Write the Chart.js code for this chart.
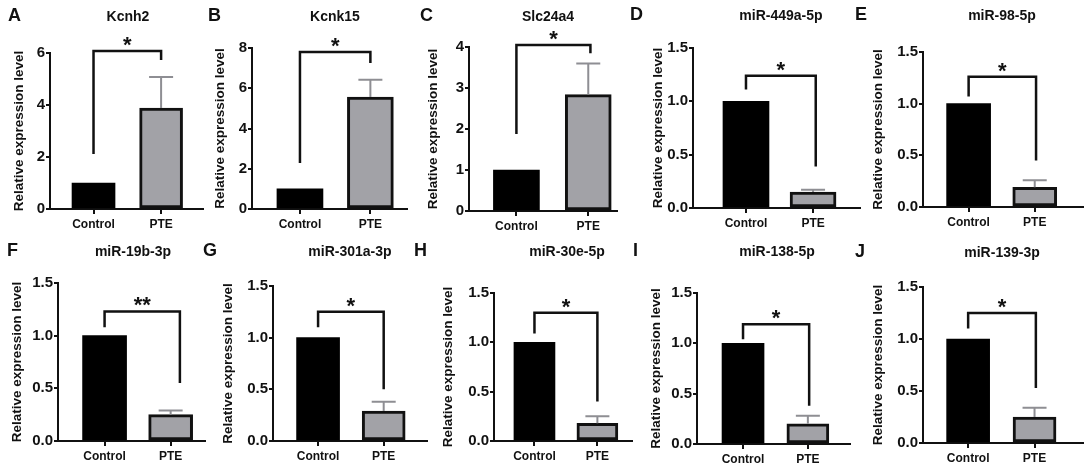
<!DOCTYPE html>
<html>
<head>
<meta charset="utf-8">
<title>Relative expression panels</title>
<script src="https://cdn.jsdelivr.net/npm/chart.js@4.4.0/dist/chart.umd.min.js"></script>
<style>
    body { margin:0; background:#fff; font-family:"Liberation Sans", Arial, sans-serif; }
    #fig { position:relative; width:1084px; height:468px; overflow:hidden; background:#fff; }
    #fig canvas { position:absolute; }
    .lbl { position:absolute; font-weight:bold; color:#111; line-height:1; white-space:nowrap; }
    .letter { font-size:18px; transform:translateY(-50%); }
    .ttl { font-size:14px; transform:translate(-50%,-50%); }
</style>
</head>
<body>
<div id="fig"></div>
<script>
// values (PTE bar = mean, error bar = mean + SEM)
var panelLetters = ['A','B','C','D','E','F','G','H','I','J'];
var panelTitles = ['Kcnh2','Kcnk15','Slc24a4','miR-449a-5p','miR-98-5p',
                   'miR-19b-3p','miR-301a-3p','miR-30e-5p','miR-138-5p','miR-139-3p'];
var groups = ['Control','PTE'];
var controlMean = [1, 1, 1, 1, 1, 1, 1, 1, 1, 1];
var pteMean = [3.88, 5.56, 2.84, 0.15, 0.19, 0.25, 0.29, 0.18, 0.20, 0.25];
var pteErr  = [1.2, 0.86, 0.76, 0.02, 0.07, 0.04, 0.09, 0.07, 0.08, 0.09];
var yMax  = [6, 8, 4, 1.5, 1.5, 1.5, 1.5, 1.5, 1.5, 1.5];
var yStep = [2, 2, 1, 0.5, 0.5, 0.5, 0.5, 0.5, 0.5, 0.5];
var sigMarks = ['*','*','*','*','*','**','*','*','*','*'];
var bracketTop   = [6.08, 7.8, 4.05, 1.24, 1.26, 1.23, 1.25, 1.30, 1.19, 1.25];
var bracketLeft  = [2.12, 2.29, 1.88, 1.11, 1.07, 1.08, 1.10, 1.09, 1.04, 1.10];
var bracketRight = [5.73, 7.26, 3.85, 0.39, 0.45, 0.55, 0.50, 0.40, 0.38, 0.53];

// where each panel sits in the figure (pixels) - layout only
// L/R = x axis ends, top/bot = pixel of max tick / zero, tx = y title centre
var frames = [
    {L:50,  R:203,  top:53,  bot:209, tx:19,  xr:[0.356,2.62], bw:43, legs:[1,2],    lx:8,   ty:15, tcx:128},
    {L:252, R:407,  top:48,  bot:209, tx:220, xr:[0.319,2.52], bw:46, legs:[1,2],    lx:208, ty:15, tcx:335},
    {L:469, R:617,  top:47,  bot:211, tx:433, xr:[0.34,2.40],  bw:46, legs:[1,2.03], lx:420, ty:15, tcx:548},
    {L:693, R:860,  top:48,  bot:208, tx:658, xr:[0.21,2.70],  bw:46, legs:[1,2.04], lx:630, ty:14, tcx:781},
    {L:923, R:1083, top:52,  bot:207, tx:878, xr:[0.31,2.73],  bw:44, legs:[1,2.02], lx:855, ty:14, tcx:1002},
    {L:58,  R:205,  top:283, bot:441, tx:17,  xr:[0.295,2.52], bw:44, legs:[1,2.14], lx:7,   ty:250, tcx:133},
    {L:273, R:427,  top:286, bot:441, tx:228, xr:[0.313,2.66], bw:43, legs:[1,2],    lx:203, ty:250, tcx:350},
    {L:494, R:632,  top:293, bot:441, tx:448, xr:[0.357,2.55], bw:41, legs:[1,2],    lx:414, ty:250, tcx:567},
    {L:697, R:850,  top:293, bot:444, tx:656, xr:[0.29,2.65],  bw:42, legs:[1,2.02], lx:633, ty:250, tcx:777},
    {L:923, R:1083, top:287, bot:443, tx:878, xr:[0.32,2.73],  bw:43, legs:[1,2.02], lx:855, ty:251, tcx:1002}
];

var FONT = '"Liberation Sans", Arial, sans-serif';
Chart.defaults.font.family = FONT;
Chart.defaults.color = '#111';

var fig = document.getElementById('fig');

// error bar, bracket and stars, drawn through the chart scales
function makeSig(i) {
    return {
        id: 'sig' + i,
        afterDatasetsDraw: function(chart) {
            var f = frames[i];
            var x = chart.scales.x, y = chart.scales.y, ctx = chart.ctx;
            ctx.save();
            var px = x.getPixelForValue(2);
            var y0 = y.getPixelForValue(pteMean[i]);
            var y1 = y.getPixelForValue(pteMean[i] + pteErr[i]);
            ctx.strokeStyle = '#8e8e93';
            ctx.lineWidth = 2;
            ctx.beginPath();
            ctx.moveTo(px, y0); ctx.lineTo(px, y1);
            ctx.moveTo(px - 12, y1); ctx.lineTo(px + 12, y1);
            ctx.stroke();

            var xl = x.getPixelForValue(f.legs[0]);
            var xr = x.getPixelForValue(f.legs[1]);
            var yt = y.getPixelForValue(bracketTop[i]);
            ctx.strokeStyle = '#111';
            ctx.lineWidth = 2.5;
            ctx.lineJoin = 'miter';
            ctx.beginPath();
            ctx.moveTo(xl, y.getPixelForValue(bracketLeft[i]));
            ctx.lineTo(xl, yt);
            ctx.lineTo(xr, yt);
            ctx.lineTo(xr, y.getPixelForValue(bracketRight[i]));
            ctx.stroke();

            ctx.fillStyle = '#111';
            ctx.font = 'bold 22px ' + FONT;
            ctx.textAlign = 'center';
            ctx.textBaseline = 'alphabetic';
            ctx.fillText(sigMarks[i], (xl + xr) / 2, yt + 1);
            ctx.restore();
        }
    };
}

frames.forEach(function(f, i) {
    var row = i < 5 ? 0 : 234;
    var left = Math.round(f.tx - 8);
    var w = f.R + 2 - left, h = f.bot - row + 26;

    var cv = document.createElement('canvas');
    cv.width = w; cv.height = h;
    cv.style.left = left + 'px'; cv.style.top = row + 'px';
    cv.style.width = w + 'px'; cv.style.height = h + 'px';
    fig.appendChild(cv);

    var letter = document.createElement('div');
    letter.className = 'lbl letter';
    letter.style.left = f.lx + 'px'; letter.style.top = f.ty + 'px';
    letter.textContent = panelLetters[i];
    fig.appendChild(letter);

    var ttl = document.createElement('div');
    ttl.className = 'lbl ttl';
    ttl.style.left = f.tcx + 'px'; ttl.style.top = (f.ty + 1) + 'px';
    ttl.textContent = panelTitles[i];
    fig.appendChild(ttl);

    new Chart(cv, {
        type: 'bar',
        data: {
            datasets: [{
                data: [{x:1, y:controlMean[i]}, {x:2, y:pteMean[i]}],
                backgroundColor: ['#000000', '#a2a2a7'],
                borderColor: '#111',
                borderWidth: [0, 3],
                borderSkipped: false,
                barThickness: f.bw
            }]
        },
        options: {
            responsive: false,
            animation: false,
            layout: { padding: { top: f.top - row, left: 0, right: 2, bottom: 0 } },
            plugins: { legend: { display: false }, tooltip: { enabled: false } },
            scales: {
                x: {
                    type: 'linear', min: f.xr[0], max: f.xr[1], offset: false,
                    afterBuildTicks: function(s) {
                        s.ticks = groups.map(function(g, k) { return { value: k + 1 }; });
                    },
                    afterFit: function(s) { s.height = 26; },
                    ticks: {
                        callback: function(v) { return groups[v - 1]; },
                        font: { size: 12, weight: 'bold' }, color: '#111',
                        padding: 3, maxRotation: 0, autoSkip: false
                    },
                    grid: { display: true, offset: false, drawOnChartArea: false, drawTicks: true,
                            tickLength: 5, color: '#111', lineWidth: 2 },
                    border: { display: true, color: '#111', width: 2 }
                },
                y: {
                    min: 0, max: yMax[i],
                    afterFit: function(s) { s.width = f.L - left; },
                    ticks: {
                        stepSize: yStep[i],
                        callback: function(v) { return yStep[i] < 1 ? v.toFixed(1) : String(v); },
                        font: { size: 15, weight: 'bold' }, color: '#111', padding: 1
                    },
                    grid: { display: true, drawOnChartArea: false, drawTicks: true,
                            tickLength: 4, color: '#111', lineWidth: 2 },
                    border: { display: true, color: '#111', width: 2 },
                    title: { display: true, text: 'Relative expression level',
                             font: { size: 13.5, weight: 'bold' }, color: '#111', padding: 0 }
                }
            }
        },
        plugins: [makeSig(i)]
    });
});
</script>
</body>
</html>
